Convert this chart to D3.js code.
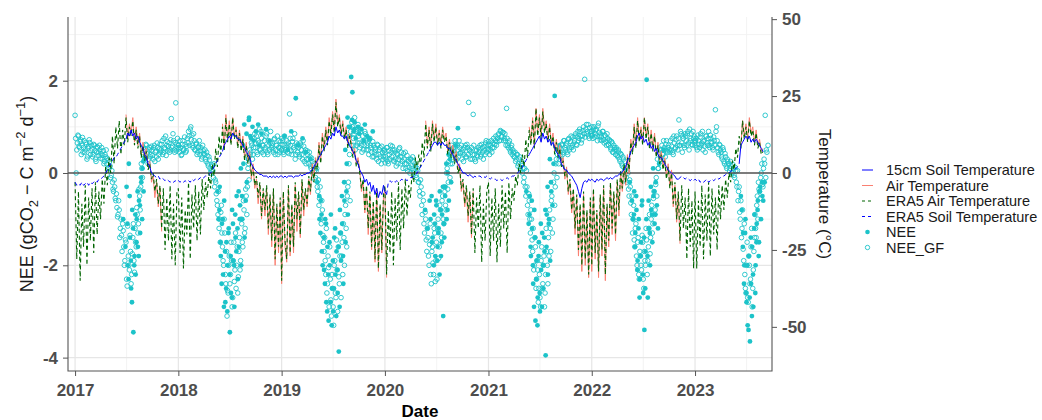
<!DOCTYPE html>
<html>
<head>
<meta charset="utf-8">
<script src="https://cdn.jsdelivr.net/npm/d3@7"></script>
<style>
  body { margin: 0; background: #fff; }
  svg { font-family: "Liberation Sans", Arial, sans-serif; }
</style>
</head>
<body>
<svg id="chart" width="1042" height="420"></svg>
<script>
// Temperature readings: [year, first index, values], one value every 6 days from Jan 1 (°C)
const era5AirTemp = [
  [2017, 0, [-3, -28, -6, -35, -10, -24, -4, -30, -8, -22, -5, -26, -3, -20, -6, -15, -2, -10, 2, -4, 5, 0, 12, 3, 15, 8, 17, 6, 14, 9, 18, 10, 15, 12, 17, 9, 14, 8, 12, 5, 9, 4, 7, 1, 3, -2, 0, -6, -2, -10, -4, -18, -5, -25, -8, -22, -4, -28, -10, -30, -6]],
  [2018, 0, [-5, -26, -8, -31, -12, -20, -3, -28, -7, -18, -4, -22, -6, -20, -2, -12, -3, -8, 0, -5, 3, -1, 8, 2, 12, 6, 15, 7, 18, 10, 16, 9, 18, 11, 14, 8, 13, 7, 11, 4, 9, 3, 6, -1, 2, -4, -1, -8, -3, -14, -5, -12, -4, -18, -7, -22, -5, -28, -10, -24, -8]],
  [2019, 0, [-35, -6, -22, -28, -4, -26, -10, -24, -3, -15, -6, -20, -2, -12, -5, -10, -1, -6, 2, -3, 4, 1, 9, 3, 12, 7, 14, 9, 17, 12, 19, 13, 23, 15, 18, 12, 16, 11, 14, 8, 12, 9, 5, 7, 2, 4, 0, -5, -2, -12, -4, -18, -6, -24, -9, -28, -5, -31, -10, -25, -7]],
  [2020, 0, [-4, -33, -12, -26, -6, -30, -8, -22, -3, -25, -5, -18, -2, -14, -4, -8, 0, -3, 5, 1, 6, 2, 10, 5, 16, 8, 14, 7, 16, 10, 15, 9, 13, 8, 14, 10, 12, 6, 10, 5, 8, 3, 6, 0, 2, -5, -2, -10, -4, -14, -6, -20, -5, -26, -8, -18, -4, -29, -10, -22, -6]],
  [2021, 0, [-3, -27, -8, -22, -5, -29, -10, -24, -4, -18, -6, -26, -3, -15, -5, -9, -1, -4, 3, 0, 6, 2, 11, 5, 14, 9, 17, 8, 21, 12, 18, 11, 20, 13, 16, 10, 15, 9, 12, 6, 10, 5, 8, 2, 4, -1, 1, -6, -2, -12, -5, -18, -7, -25, -10, -30, -6, -28, -12, -33, -8]],
  [2022, 0, [-30, -5, -26, -12, -32, -7, -25, -4, -33, -10, -22, -3, -18, -6, -20, -2, -12, 1, -5, 3, -3, 5, 1, 10, 6, 15, 8, 17, 10, 14, 9, 18, 11, 15, 8, 13, 7, 12, 5, 9, 3, 6, 1, 4, -2, 2, -5, 0, -10, -3, -15, -6, -22, -4, -18, -8, -28, -5, -24, -9, -31]],
  [2023, 0, [-6, -31, -9, -24, -4, -28, -7, -22, -3, -27, -5, -20, -8, -25, -4, -15, -4, -12, -2, -8, 0, -3, 4, 1, 8, 5, 12, 8, 17, 11, 15, 10, 17, 12, 14, 9, 13, 8, 10, 6, 7]]
];

const airTemp = [
  [2017, 30, [19, 11, 16, 13, 18, 10, 15, 9, 13, 6, 10, 5, 8, 2, 4, -3, -1, -8, -3, -11, -5, -19]],
  [2018, 26, [16, 8, 19, 11, 17, 10, 18, 12, 15, 9, 14, 8, 12, 5, 10, 4, 7, -2, 3, -5, -2, -10, -4, -15, -6, -14, -5, -20, -8, -24, -6, -30, -11, -26, -9]],
  [2019, 0, [-36, -7, -24, -29, -5, -27, -11, -26, -4, -19, -7, -21, -3, -14, -6, -11, -2, -7, 3, -2, 5, 2, 10, 4, 13, 8, 15, 10, 18, 13, 20, 14, 24, 16, 19, 13, 17, 12, 15, 9, 13, 10, 6, 8, 3, 5, 1, -6, -3, -13, -5, -20, -7, -25, -10, -29, -6, -32, -11, -26, -8]],
  [2020, 0, [-5, -34]],
  [2020, 24, [17, 9, 15, 8, 17, 11, 16, 10, 14, 9, 15, 11, 13, 7, 11, 6, 9, 4, 7, 1, 3, -6, -3, -11, -5, -16, -7, -21, -6]],
  [2021, 24, [15, 10, 18, 9, 21, 13, 19, 12, 21, 14, 17, 11, 16, 10, 13, 7, 11, 6, 9, 3, 5, -2, 2, -7, -3, -13, -6, -20, -8, -27, -11, -32, -7, -30, -13, -34, -9]],
  [2022, 0, [-32, -6, -28, -13, -34, -8, -27, -5, -35, -11, -24, -4, -20, -7, -22, -3, -14, 0, -6, 2, -4, 6, 0, 11, 7, 16, 9, 18, 11, 15, 10, 18, 12, 16, 9, 14, 8, 13, 6, 10, 4, 7, 2, 5, -1, 3, -4, 1, -11, -4, -16, -7, -23]],
  [2023, 27, [9, 17, 12, 16, 11, 18, 13, 15, 10, 14, 9, 11, 7, 8]]
];

const soilTemp = [
  [2017, 30, [11, 13, 12, 14, 12, 13, 11, 12, 10, 9, 8, 6, 5, 3, 2, 0, -0.5]],
  [2018, 26, [7, 9, 10, 11, 12, 11, 13, 12, 12, 11, 11, 10, 9, 8, 7, 6, 5, 3, 2, 1, 0.5, 0, -0.5, -0.5, -1, -1, -1, -1.5, -1, -1.5, -1, -1.5, -1, -1.5, -1]],
  [2019, 0, [-1, -1.5, -1, -1.5, -1, -1, -1, -1.5, -1, -1, -1, -0.5, -1, -0.5, -0.5, 0, 0, 0.5, 1, 2, 3, 4, 5, 6, 7, 8, 9, 10, 12, 11, 13, 12, 15, 13, 14, 12, 12, 11, 12, 10, 9, 8, 7, 6, 4, 3, 1, 0, -1, -3, -2, -4, -3, -6, -4, -7, -5, -8, -6, -7, -4]],
  [2020, 0, [-6, -7]],
  [2020, 26, [7, 8, 9, 10, 10, 9, 10, 9, 10, 9, 9, 8, 8, 7, 6, 5, 4, 3, 2, 1, 0, 0, -0.5, -1, -0.5, -1, -1.5]],
  [2021, 24, [6, 7, 8, 9, 10, 11, 12, 10, 13, 11, 12, 10, 11, 9, 10, 8, 7, 6, 5, 3, 2, 1, 1, 0, -0.5, -1, -2, -3, -4, -6, -8, -5, -3, -2.5, -3, -2, -2.5]],
  [2022, 0, [-2, -2.5, -3, -2, -2.5, -2, -2, -2.5, -2, -1.5, -2, -1.5, -2, -1.5, -1, -1, -0.5, 0, 0.5, 1, 2, 4, 5, 7, 8, 9, 10, 12, 13, 11, 12, 10, 11, 9, 10, 8, 9, 7, 8, 6, 5, 5, 4, 3, 2, 1, 0.5, 0, -0.5, -1, -2, -2]],
  [2023, 26, [3, 9, 10, 11, 12, 11, 12, 10, 11, 10, 11, 10, 9, 8]]
];

const era5SoilTemp = [
  [2017, 0, [-3, -4, -3.5, -4, -3, -4, -3.5, -3, -4, -3, -3.5, -3, -2.5, -3, -2, -2, -1.5, -1, 0, 1, 2, 3, 4, 5, 5, 6, 7, 8, 9, 10, 11]],
  [2017, 46, [-0.5, -1, -1.5, -1, -2, -1.5, -2, -2.5, -2, -2.5, -3, -2.5, -3, -2.5, -3]],
  [2018, 0, [-2.5, -3, -2.5, -3, -2.5, -3, -2.5, -3, -2, -2.5, -2, -2.5, -2, -1.5, -2, -1.5, -1, -1, -0.5, 0, 1, 2, 3, 4, 5, 6, 7]],
  [2020, 1, [-7, -3, -2.5, -3, -2.5, -3, -2.5, -3, -2.5, -2, -2.5, -2, -2.5, -2, -1.5, -1.5, -1, -0.5, 0, 1, 2, 3, 4, 5, 6, 7]],
  [2020, 52, [-1.5, -1, -1.5, -1, -1, -1.5, -1, -1.5, -1]],
  [2021, 0, [-1.5, -2, -1.5, -2, -2, -2.5, -2, -2, -2.5, -2, -2, -1.5, -2, -1.5, -1, -1, -0.5, 0, 0.5, 1, 2, 3, 4, 5, 6]],
  [2022, 51, [-2, -1.5, -1, -1.5, -2, -1.5, -2, -2.5, -2, -2.5]],
  [2023, 0, [-2, -2.5, -2, -3, -2.5, -3, -2.5, -2, -3, -2.5, -2, -2.5, -2, -1.5, -2, -1.5, -1, -1, -0.5, 0, 0, 0.5, 1, 1, 1.5, 2, 3]],
  [2023, 39, [8, 7, 6]]
];

// NEE (gCO2-C m-2 d-1), gap-filled: [year, day offset, values every 4 days from Jan 1 + offset]
const neeGapFilled = [
  [2017, 0, [1.25, 0.0, 0.65, 0.8, 0.55, 0.72, 0.6, 0.45, 0.7, 0.5, 0.62, 0.35, 0.58, 0.66, 0.48, 0.52, 0.4, 0.6, 0.3, 0.45, 0.55, 0.38, 0.5, 0.42, 0.3, 0.48, 0.25, 0.35, 0.2, 0.28, 0.1, 0.15, -0.05, -0.2, -0.4, -0.3, -0.6, -0.75, -0.9, -0.8, -1.2, -1.35, -1.1, -1.6, -1.9, -1.5, -2.45, -1.8, -2.1, -1.7, -2.2, -1.4, -1.9, -1.2, -1.6, -0.9, -1.1, -0.5, -0.3, 0.1, 0.4, 0.5, 0.35, 0.6, 0.45, 0.3, 0.55, 0.4, 0.5, 0.3, 0.6, 0.45, 0.35, 0.55, 0.4, 0.62, 0.5, 0.7, 0.45, 0.55, 0.8, 0.6, 0.48, 0.65, 0.5, 1.18, 0.58, 0.7, 0.45, 1.52, 0.62, 0.55]],
  [2018, 0, [0.6, 0.45, 0.55, 0.4, 0.7, 0.5, 0.62, 0.48, 0.75, 0.9, 0.6, 1.0, 0.82, 0.55, 0.7, 0.5, 0.65, 0.45, 0.58, 0.4, 0.55, 0.35, 0.48, 0.4, 0.3, 0.45, 0.2, 0.35, 0.1, 0.05, 0.15, -0.1, -0.3, -0.2, -0.6, -0.9, -1.2, -1.5, -0.7, -1.6, -2.0, -1.3, -2.4, -3.1, -2.6, -1.8, -2.2, -1.9, -2.7, -1.5, -2.1, -2.5, -1.6, -2.25, -1.4, -1.9, -1.1, -1.6, -0.8, -1.2, -0.5, -0.3, 0.2, 0.5, 0.45, 0.6, 0.4, 0.75, 0.55, 0.8, 0.4, 0.65, 0.5, 0.9, 0.45, 0.6, 0.7, 0.5, 0.85, 0.4, 0.6, 0.65, 0.55, 0.65, 0.45, 0.75, 0.5, 0.6, 0.4, 0.7, 0.55, 0.5]],
  [2019, 0, [0.5, 0.7, 0.4, 0.6, 0.55, 0.45, 0.65, 1.28, 0.6, 0.4, 0.75, 0.5, 0.3, 0.65, 0.45, 0.55, 0.35, 0.6, 0.4, 0.7, 0.25, 0.5, 0.3, 0.4, 0.2, 0.35, 0.1, 0.25, 0.15, 0.05, -0.1, 0.1, -0.4, -0.7, -0.3, -1.1, -0.8, -1.5, -1.4, -2.2, -2.6, -1.8, -2.9, -2.3, -3.1, -2.5, -3.3, -1.9, -2.7, -2.1, -1.6, -2.4, -1.3, -1.8, -2.2, -1.4, -0.9, -1.2, -0.5, -0.2, 0.4, 0.9, 1.1, 0.6, 0.85, 0.5, 0.95, 0.65, 0.8, 0.55, 0.9, 0.45, 0.7, 0.6, 0.85, 0.5, 0.65, 0.4, 0.75, 0.55, 0.35, 0.6, 0.45, 0.5, 0.3, 0.6, 0.4, 0.55, 0.2, 0.45, 0.35, 0.5]],
  [2020, 0, [0.45, 0.3, 0.55, 0.2, 0.4, 0.6, 0.35, 0.5, 0.25, 0.45, 0.15, 0.4, 0.3, 0.55, 0.2, 0.35, 0.1, 0.3, 0.45, 0.2, 0.05, 0.25, 0.0, 0.3, 0.1, 0.25, 0.0, 0.15, -0.1, 0.05, -0.2, -0.5, -0.3, -0.9, -0.6, -1.3, -1.0, -1.7, -1.4, -2.0, -1.1, -2.4, -1.6, -2.2, -1.3, -1.9, -2.3, -1.0, -1.6, -0.8, -1.4, -0.5, -1.1, -0.4, -0.8, 0.1, -0.2, 0.4, 0.2, 0.6, 0.3, 0.5, 0.7, 0.4, 0.6, 0.35, 0.55, 0.45, 0.3, 0.5, 0.4, 0.6, 0.35, 0.55, 1.53, 0.5, 0.45, 0.3, 1.27, 0.4, 0.25, 0.5, 0.35, 0.45, 0.6, 0.4, 0.55, 0.3, 0.5, 0.65, 0.45, 0.6]],
  [2021, 0, [0.5, 0.4, 0.6, 0.45, 0.65, 0.55, 0.7, 0.6, 0.75, 0.85, 0.7, 0.9, 0.8, 0.88, 0.75, 0.7, 1.4, 0.6, 0.65, 0.5, 0.55, 0.4, 0.45, 0.35, 0.25, 0.4, 0.15, 0.3, 0.1, 0.2, 0.0, -0.2, 0.1, -0.5, -0.3, -0.9, -0.6, -1.3, -1.0, -1.7, -2.1, -1.4, -2.5, -1.9, -2.8, -2.2, -2.9, -1.6, -2.4, -1.8, -2.6, -1.2, -2.0, -1.4, -0.8, -1.7, -0.5, -1.0, 0.0, -0.3, 0.3, 0.4, 0.2, 0.55, 0.35, 0.6, 0.45, 0.7, 0.5, 0.65, 0.4, 0.75, 0.55, 0.8, 0.6, 0.5, 0.7, 0.85, 0.6, 0.9, 0.75, 0.9, 0.65, 0.8, 1.0, 2.03, 0.95, 0.85, 1.05, 0.75, 0.9, 0.8]],
  [2022, 0, [0.9, 0.75, 1.0, 0.85, 0.95, 0.7, 1.08, 0.8, 0.85, 0.7, 0.9, 0.65, 0.8, 0.6, 0.75, 0.6, 0.7, 0.5, 0.65, 0.45, 0.55, 0.4, 0.5, 0.35, 0.45, 0.25, 0.4, 0.15, 0.3, 0.05, 0.1, -0.2, 0.0, -0.5, -0.3, -0.9, -1.3, -0.7, -1.6, -1.1, -2.0, -1.4, -2.3, -1.8, -2.1, -1.5, -2.5, -1.9, -1.2, -2.2, -1.6, -0.9, -1.4, -0.7, -1.1, -0.4, -0.8, -0.1, 0.3, 0.1, 0.5, 0.3, 0.6, 0.4, 0.55, 0.35, 0.7, 0.45, 0.6, 0.45, 0.5, 0.75, 0.4, 0.65, 0.55, 0.8, 0.5, 1.15, 0.6, 0.85, 0.45, 0.75, 0.55, 0.8, 0.6, 0.9, 0.5, 0.7, 0.85, 0.6, 0.75, 0.65]],
  [2023, 0, [0.6, 0.75, 0.5, 0.7, 0.55, 0.85, 0.65, 0.5, 0.7, 0.45, 0.8, 0.6, 0.9, 0.55, 0.75, 0.65, 0.5, 0.7, 1.37, 1.0, 0.55, 0.4, 0.6, 0.45, 0.3, 0.5, 0.2, 0.35, 0.1, 0.25, 0.2, 0.1, 0.15, 0.0, 0.1, -0.1, 0.05, -0.3, -0.6, -0.3, -1.0, -1.4, -0.8, -1.9, -2.2, -2.6, -1.5, -2.8, -2.0, -2.3, -1.2, -2.5, -1.7, -0.9, -1.4, -0.5, -0.2, -0.4, -0.1, 0.2, -0.3, 0.3, 1.25, 0.5]],
  [2017, 2, [0.75, 0.5, 0.82, 0.58, 0.68, 0.4, 0.77, 0.55, 0.45, 0.66, 0.3, 0.54, 0.72, 0.4, 0.6, 0.35, 0.62, 0.48, 0.25, 0.57, 0.44, 0.6, 0.32, 0.55, 0.38, 0.2, 0.4, 0.5, 0.32, 0.12, 0.25, -0.1, 0.05, -0.35, -0.15, -0.55, -0.45, -0.95, -0.6, -1.4, -1.0, -1.7, -1.25, -2.0, -1.45, -2.3, -1.15, -2.0, -1.35, -2.4, -1.75, -1.1, -2.15, -1.5, -0.75, -1.3, -0.35, -0.8, 0.2, -0.1, 0.55, 0.3, 0.62, 0.42, 0.2, 0.5, 0.35, 0.58, 0.38, 0.55, 0.25, 0.48, 0.65, 0.3, 0.52, 0.45, 0.62, 0.4, 0.75, 0.52, 0.38, 0.68, 0.58, 0.45, 0.72, 0.55, 0.85, 0.5, 0.66, 0.48, 0.75, 0.6]],
  [2018, 2, [0.52, 0.7, 0.38, 0.62, 0.5, 0.78, 0.45, 0.58, 0.65, 0.8, 0.95, 0.72, 0.6, 0.85, 0.5, 0.62, 0.4, 0.55, 0.7, 0.48, 0.3, 0.6, 0.42, 0.5, 0.25, 0.38, 0.15, 0.28, 0.0, 0.18, 0.05, 0.2, -0.15, -0.45, -0.7, -0.4, -1.0, -0.85, -1.3, -1.9, -1.0, -2.2, -1.7, -2.55, -2.0, -2.4, -1.5, -2.9, -1.9, -2.35, -1.3, -2.0, -2.6, -1.7, -2.1, -1.0, -1.5, -0.6, -1.3, -0.35, -0.9, 0.1, -0.15, 0.4, 0.65, 0.3, 0.55, 0.85, 0.65, 0.45, 0.7, 0.95, 0.5, 0.75, 0.6, 0.4, 0.55, 0.8, 0.45, 0.7, 0.5, 0.9, 0.6, 0.5, 0.72, 0.4, 0.6, 0.8, 0.55, 0.45, 0.68, 0.75]],
  [2019, 2, [0.62, 0.45, 0.8, 0.5, 0.7, 0.6, 0.42, 0.75, 0.48, 0.68, 0.55, 0.85, 0.4, 0.58, 0.62, 0.4, 0.65, 0.5, 0.3, 0.58, 0.45, 0.2, 0.48, 0.3, 0.45, 0.15, 0.32, 0.0, 0.2, -0.15, 0.05, -0.3, -0.15, -0.55, -1.0, -0.6, -1.35, -1.7, -1.9, -1.2, -2.4, -2.05, -1.6, -2.75, -2.2, -2.9, -2.0, -2.6, -1.45, -3.0, -2.25, -1.8, -2.7, -1.5, -1.1, -2.0, -0.7, -1.6, -0.3, 0.2, -0.6, 0.6, 1.0, 0.75, 1.2, 0.9, 0.6, 1.05, 0.65, 0.95, 0.6, 0.8, 0.5, 0.9, 0.7, 0.6, 0.5, 0.72, 0.6, 0.45, 0.68, 0.35, 0.55, 0.4, 0.62, 0.25, 0.5, 0.35, 0.58, 0.3, 0.48, 0.22]],
  [2020, 2, [0.35, 0.55, 0.25, 0.48, 0.3, 0.45, 0.58, 0.28, 0.5, 0.3, 0.42, 0.2, 0.52, 0.35, 0.45, 0.25, 0.42, 0.2, 0.1, 0.38, 0.28, 0.12, 0.3, 0.15, 0.35, 0.05, 0.2, -0.05, 0.1, -0.2, -0.4, -0.15, -0.7, -0.45, -1.1, -0.85, -1.45, -1.2, -1.8, -1.55, -2.2, -1.7, -1.95, -1.2, -2.35, -1.5, -1.2, -1.85, -0.7, -1.3, -0.6, -1.0, -0.3, -0.7, 0.0, -0.35, 0.25, -0.1, 0.45, 0.2, 0.55, 0.4, 0.62, 0.3, 0.5, 0.7, 0.42, 0.6, 0.45, 0.25, 0.55, 0.35, 0.62, 0.4, 0.5, 0.3, 0.55, 0.4, 0.6, 0.3, 0.48, 0.38, 0.55, 0.5, 0.35, 0.62, 0.45, 0.58, 0.4, 0.7, 0.52, 0.68]],
  [2021, 2, [0.62, 0.5, 0.7, 0.55, 0.75, 0.62, 0.8, 0.68, 0.82, 0.7, 0.92, 0.78, 0.88, 0.7, 0.85, 0.6, 0.75, 0.55, 0.7, 0.45, 0.6, 0.5, 0.35, 0.45, 0.3, 0.4, 0.2, 0.35, 0.05, 0.25, 0.1, -0.1, -0.3, 0.05, -0.7, -0.45, -1.0, -0.8, -1.45, -1.2, -2.0, -1.6, -2.3, -2.1, -2.5, -2.7, -1.9, -2.5, -2.0, -2.9, -2.2, -1.7, -2.4, -1.8, -1.2, -0.6, -1.3, -0.2, -0.7, 0.2, -0.1, 0.5, 0.3, 0.45, 0.62, 0.4, 0.7, 0.55, 0.6, 0.45, 0.72, 0.5, 0.68, 0.55, 0.78, 0.65, 0.8, 0.62, 0.78, 0.7, 0.95, 0.8, 0.72, 0.92, 0.85, 0.78, 1.05, 0.9, 0.8, 0.98, 0.85, 1.0]],
  [2022, 2, [0.82, 0.95, 0.78, 0.92, 0.8, 1.02, 0.88, 0.72, 0.78, 0.9, 0.72, 0.82, 0.68, 0.85, 0.62, 0.72, 0.55, 0.68, 0.45, 0.6, 0.5, 0.55, 0.38, 0.5, 0.3, 0.42, 0.2, 0.35, 0.12, 0.25, -0.1, 0.05, -0.35, -0.15, -0.65, -0.5, -1.0, -1.45, -1.2, -1.8, -1.5, -2.2, -1.7, -2.0, -1.35, -2.3, -1.7, -2.0, -1.45, -1.9, -1.2, -1.75, -1.0, -1.3, -0.55, -0.9, -0.25, -0.5, 0.1, 0.45, 0.25, 0.5, 0.4, 0.7, 0.5, 0.62, 0.48, 0.55, 0.5, 0.7, 0.58, 0.45, 0.8, 0.52, 0.72, 0.6, 0.75, 0.6, 0.9, 0.65, 0.8, 0.6, 0.85, 0.7, 0.85, 0.65, 0.95, 0.75, 0.62, 0.9, 0.8, 0.7]],
  [2023, 2, [0.7, 0.55, 0.82, 0.62, 0.78, 0.6, 0.9, 0.68, 0.58, 0.8, 0.65, 0.75, 0.6, 0.82, 0.68, 0.55, 0.78, 0.6, 0.9, 0.7, 0.45, 0.62, 0.5, 0.35, 0.55, 0.25, 0.42, 0.15, 0.3, 0.2, 0.05, 0.25, 0.0, 0.18, -0.05, 0.12, -0.2, 0.05, -0.4, -0.85, -0.6, -1.2, -1.65, -1.1, -2.5, -2.0, -2.7, -1.8, -2.4, -1.6, -2.9, -2.1, -1.4, -1.2, -0.7, -1.0, -0.35, -0.55, 0.0, -0.25, 0.1, 0.2, -0.1, 0.45, 0.6]]
];

// measured NEE: [year, day offset, first index, values every 4 days] (null = no flux that day)
const neeMeasured = [
  [2017, 2, 42, [-1.0, null, -1.6, -0.3, -2.0, 0.2, -1.4, -2.5, -0.8, -3.45, -1.8, -2.2, -1.0, -1.6, -0.6, -1.3, -0.2, 0.1, -0.4, 0.3]],
  [2018, 2, 34, [-0.4, -1.0, -0.3, -1.8, -1.1, -2.2, -0.6, -2.8, -1.5, -2.0, -1.2, -3.45, -2.6, -0.8, -1.9, -2.9, -1.4, -0.5, -2.3, -1.6, -0.7, -2.0, -1.0, 0.2, -1.4, -0.6, -0.2, 0.3, 1.2, 0.8, null, 1.0, 0.7, null, 0.9, null, 1.05, 0.6, null, 0.85, null, null, null, 0.95, null, null, 0.7]],
  [2019, 2, 2, [0.8, null, null, 0.5, null, null, 0.9, null, null, null, 1.62, null, 0.6, null, null, null, 0.75, null, null, 0.45, null, null, null, 0.3]],
  [2019, 2, 31, [-0.2, null, -1.0, -0.6, -1.7, null, -2.1, -1.0, -2.8, -1.6, -3.2, -2.0, -0.9, -2.5, -3.0, -1.4, -2.2, -1.7, -2.6, -3.87, -0.8, -1.9, -1.1, -2.4, -0.6, -1.5, 0.2, -0.9, 0.8, 1.0, 2.08, 1.75, 0.9, 1.1, 0.75, null, 1.0, 0.85, null, 0.95, null, 0.7, 1.05, null, 0.8, null, 0.75, null, null, 0.9]],
  [2020, 2, 35, [-0.8, null, -1.2, null, -0.6, null, -1.5, null, -0.9, -1.8, -0.7, -1.6, -1.2, -0.4, -1.8, -0.9, -3.1, -1.4, -0.3, -1.0, 0.0, -0.6, 0.3, -0.2, 0.5, null, null, 0.6, null, 0.97]],
  [2021, 2, 33, [-0.4, null, -1.1, -0.5, -1.8, -1.2, -2.4, -0.8, -3.2, -1.9, -2.7, -1.5, -3.0, -2.1, -1.3, -2.5, -1.7, -3.95, -0.9, -2.2, -1.0, -1.9, -0.4, -0.7, 0.2, 1.67, null, 0.5, null, 0.6]],
  [2022, 2, 33, [-0.2, null, -0.6, -1.0, -0.4, -1.3, -0.8, -1.9, -1.0, -2.3, -1.5, -0.6, -2.6, -3.4, -1.7, 2.02, -2.7, -1.2, -2.0, -0.8, -1.5, -0.5, -1.1, -0.2, -0.7, -1.2, 0.2, null, null, null, 0.5]],
  [2023, 2, 40, [-0.5, null, -1.3, -2.0, -1.0, -2.8, -3.3, -1.8, -3.65, -2.4, -1.6, -2.9, -0.9, -2.0, -1.1, -0.6, -1.5, -0.3, null, -0.5, null, -0.2]],
  [2017, 1, 46, [-1.1, -2.3, -0.5, -1.9, -2.8, -1.2, -2.0, -0.9, -1.5, -0.4, -1.8, -0.7, -0.1, -1.0, 0.25]],
  [2018, 1, 36, [-0.8, -1.5, -2.4, -1.0, -2.9, -1.7, -2.5, -3.0, -1.3, -2.2, -1.8, -2.7, -1.1, -2.0, -0.9, -1.7, -1.2, -0.4, -1.0, 0.1, -0.5, 0.6, 1.05, null, 0.85, null, 1.15, null, 0.75]],
  [2019, 1, 33, [-0.5, -1.3, -0.9, -2.0, -1.4, -2.4, -1.1, -3.0, -2.2, -1.5, -2.8, -3.3, -1.9, -2.5, -1.2, -3.1, -2.1, -1.6, -2.9, -1.3, -0.5, -1.8, -0.2, 0.5, -0.4, 1.2, 1.0, 0.8, null, 1.15, null, 0.95]],
  [2020, 1, 40, [-1.0, -0.5, -1.4, -2.0, -1.1, -0.6, -1.9, -1.3, -2.2, -0.8, -1.5, -0.3, -1.1, -0.5, 0.2, -0.8, 0.4]],
  [2021, 1, 36, [-0.9, -1.6, -0.6, -2.0, -2.9, -1.4, -2.3, -3.3, -1.8, -2.6, -1.1, -2.9, -2.0, -1.4, -0.8, -1.6, -0.3, -1.1, 0.3, -0.2]],
  [2022, 1, 37, [-0.9, -1.6, -0.5, -2.1, -1.2, -2.7, -1.8, -0.7, -2.2, -1.4, -2.5, -1.0, -1.8, -0.6, -1.3, -0.3, -0.9, 0.1, -0.4, -0.9]],
  [2023, 1, 41, [-0.8, -1.6, -2.4, -1.3, -2.6, -2.0, -3.4, -2.7, -1.4, -3.1, -2.2, -1.2, -2.6, -1.5, -0.8, -1.8, -0.4, -1.0, -0.2, -0.6]]
];

const neeTicks = [-4, -2, 0, 2];
const tempTicks = [-50, -25, 0, 25, 50];
const yearTicks = [2017, 2018, 2019, 2020, 2021, 2022, 2023];

const legendItems = [
  { label: '15cm Soil Temperature', kind: 'line', color: 'blue', dash: null },
  { label: 'Air Temperature', kind: 'line', color: 'salmon', dash: null },
  { label: 'ERA5 Air Temperature', kind: 'line', color: 'darkgreen', dash: '3,3' },
  { label: 'ERA5 Soil Temperature', kind: 'line', color: 'blue', dash: '3,3' },
  { label: 'NEE', kind: 'dot', color: '#1cc3c9' },
  { label: 'NEE_GF', kind: 'ring', color: '#1cc3c9' }
];

const pointColor = '#1cc3c9';
const tempPerNee = 15; // secondary axis: °C = NEE * 15
const day = 864e5;

const panel = { left: 68, right: 772, top: 17, bottom: 371 };
const svg = d3.select('#chart');

const x = d3.scaleTime()
  .domain([new Date(2016, 11, 7), new Date(2023, 8, 30)])
  .range([panel.left, panel.right]);
const y = d3.scaleLinear().domain([-4.29, 3.38]).range([panel.bottom, panel.top]);
const yTemp = d3.scaleLinear()
  .domain(y.domain().map(d => d * tempPerNee))
  .range(y.range());

// turn [year, start, values] rows into dated points, with a null break between separate runs
function toPoints(rows, step, offset) {
  const out = [];
  let last = null;
  for (const [year, start, vals] of rows) {
    vals.forEach((v, k) => {
      const date = new Date(year, 0, 1 + offset + step * (start + k));
      if (last && date - last > (step + 2) * day) out.push({ date, value: null });
      out.push({ date, value: v });
      last = date;
    });
  }
  return out;
}

// grid
const grid = svg.append('g');
const minorX = yearTicks.map(yr => new Date(yr, 6, 2));
const majorX = yearTicks.map(yr => new Date(yr, 0, 1));
grid.append('g').selectAll('line').data(minorX).join('line')
  .attr('x1', d => x(d)).attr('x2', d => x(d))
  .attr('y1', panel.top).attr('y2', panel.bottom)
  .attr('stroke', '#f0f0f0').attr('stroke-width', 0.8);
grid.append('g').selectAll('line').data([-3, -1, 1, 3]).join('line')
  .attr('x1', panel.left).attr('x2', panel.right)
  .attr('y1', d => y(d)).attr('y2', d => y(d))
  .attr('stroke', '#f0f0f0').attr('stroke-width', 0.8);
grid.append('g').selectAll('line').data(majorX).join('line')
  .attr('x1', d => x(d)).attr('x2', d => x(d))
  .attr('y1', panel.top).attr('y2', panel.bottom)
  .attr('stroke', '#e6e6e6').attr('stroke-width', 1.2);
grid.append('g').selectAll('line').data(neeTicks).join('line')
  .attr('x1', panel.left).attr('x2', panel.right)
  .attr('y1', d => y(d)).attr('y2', d => y(d))
  .attr('stroke', '#e6e6e6').attr('stroke-width', 1.2);

// NEE points
const gf = neeGapFilled.flatMap(([year, offset, vals]) =>
  vals.map((v, k) => ({ date: new Date(year, 0, 1 + offset + 4 * k), value: v })));
const measured = neeMeasured.flatMap(([year, offset, start, vals]) =>
  vals.map((v, k) => ({ date: new Date(year, 0, 1 + offset + 4 * (start + k)), value: v })))
  .filter(d => d.value != null);

svg.append('g').selectAll('circle').data(gf).join('circle')
  .attr('cx', d => x(d.date)).attr('cy', d => y(d.value))
  .attr('r', 2.3).attr('fill', 'none')
  .attr('stroke', pointColor).attr('stroke-width', 0.9);
svg.append('g').selectAll('circle').data(measured).join('circle')
  .attr('cx', d => x(d.date)).attr('cy', d => y(d.value))
  .attr('r', 2.4).attr('fill', pointColor);

// zero line
svg.append('line')
  .attr('x1', panel.left).attr('x2', panel.right)
  .attr('y1', y(0)).attr('y2', y(0))
  .attr('stroke', '#555').attr('stroke-width', 1.6);

// temperature lines on the secondary scale
const line = d3.line()
  .defined(d => d.value != null)
  .x(d => x(d.date))
  .y(d => yTemp(d.value));

const tempSeries = [
  { rows: airTemp, color: 'salmon', dash: null, width: 1 },
  { rows: era5AirTemp, color: 'darkgreen', dash: '4,3', width: 1.1 },
  { rows: era5SoilTemp, color: 'blue', dash: '4,3', width: 1 },
  { rows: soilTemp, color: 'blue', dash: null, width: 1 }
];
svg.append('g').selectAll('path').data(tempSeries).join('path')
  .attr('d', d => line(toPoints(d.rows, 6, 0)))
  .attr('fill', 'none')
  .attr('stroke', d => d.color)
  .attr('stroke-width', d => d.width)
  .attr('stroke-dasharray', d => d.dash);

// axes (ggplot-style hyphen minus in tick labels)
const axisColor = '#555';
const plain = d => String(d);
function styleAxis(g) {
  g.select('.domain').remove();
  g.selectAll('.tick line').attr('stroke', axisColor).attr('stroke-width', 1);
  g.selectAll('.tick text')
    .attr('fill', '#4d4d4d').attr('font-size', 17).attr('font-weight', 'bold')
    .attr('font-family', '"Liberation Sans", Arial, sans-serif');
}

svg.append('g').attr('transform', `translate(${panel.left},0)`)
  .call(d3.axisLeft(y).tickValues(neeTicks).tickFormat(plain).tickSize(5).tickPadding(5))
  .call(styleAxis);
svg.append('g').attr('transform', `translate(${panel.right},0)`)
  .call(d3.axisRight(yTemp).tickValues(tempTicks).tickFormat(plain).tickSize(5).tickPadding(5))
  .call(styleAxis);
svg.append('g').attr('transform', `translate(0,${panel.bottom})`)
  .call(d3.axisBottom(x).tickValues(majorX).tickFormat(d3.timeFormat('%Y')).tickSize(5).tickPadding(8))
  .call(styleAxis);

svg.append('path')
  .attr('d', `M${panel.left},${panel.top}V${panel.bottom}H${panel.right}V${panel.top}`)
  .attr('fill', 'none').attr('stroke', axisColor).attr('stroke-width', 1.1);

// axis titles
svg.append('text')
  .attr('x', (panel.left + panel.right) / 2).attr('y', 417)
  .attr('text-anchor', 'middle').attr('font-size', 17).attr('font-weight', 'bold')
  .attr('fill', '#000').text('Date');

const yTitle = svg.append('text')
  .attr('transform', `translate(33,${(panel.top + panel.bottom) / 2}) rotate(-90)`)
  .attr('text-anchor', 'middle').attr('font-size', 18).attr('fill', '#1a1a1a');
yTitle.append('tspan').text('NEE (gCO');
yTitle.append('tspan').attr('font-size', 13).attr('dy', 5).text('2');
yTitle.append('tspan').attr('dy', -5).text(' \u2212 C m');
yTitle.append('tspan').attr('font-size', 13).attr('dy', -8).text('\u22122');
yTitle.append('tspan').attr('dy', 8).text(' d');
yTitle.append('tspan').attr('font-size', 13).attr('dy', -8).text('\u22121');
yTitle.append('tspan').attr('dy', 8).text(')');

svg.append('text')
  .attr('transform', `translate(819,${(panel.top + panel.bottom) / 2}) rotate(90)`)
  .attr('text-anchor', 'middle').attr('font-size', 17).attr('fill', '#1a1a1a')
  .text('Temperature (\u00b0C)');

// legend
const legend = svg.append('g').attr('transform', 'translate(861,170)');
const item = legend.selectAll('g').data(legendItems).join('g')
  .attr('transform', (d, i) => `translate(0,${i * 15.5})`);
item.filter(d => d.kind === 'line').append('line')
  .attr('x1', 1).attr('x2', 12).attr('y1', 0).attr('y2', 0)
  .attr('stroke', d => d.color).attr('stroke-width', 1)
  .attr('stroke-dasharray', d => d.dash);
item.filter(d => d.kind === 'dot').append('circle')
  .attr('cx', 6.5).attr('r', 2.3).attr('fill', d => d.color);
item.filter(d => d.kind === 'ring').append('circle')
  .attr('cx', 6.5).attr('r', 2.2).attr('fill', 'none')
  .attr('stroke', d => d.color).attr('stroke-width', 0.9);
item.append('text')
  .attr('x', 25).attr('dy', '0.35em')
  .attr('font-size', 14.5).attr('fill', '#1a1a1a')
  .text(d => d.label);
</script>
</body>
</html>
